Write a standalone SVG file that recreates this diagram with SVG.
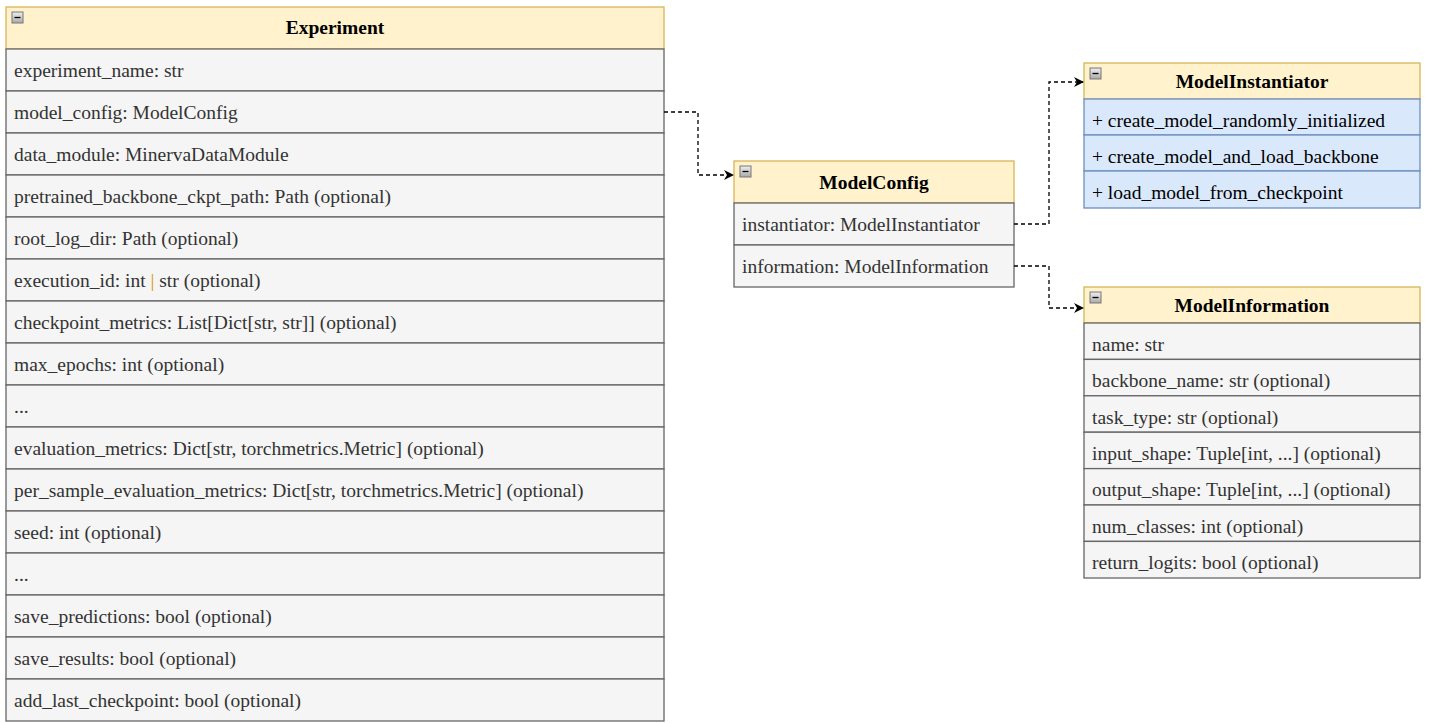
<svg xmlns="http://www.w3.org/2000/svg" width="1429" height="723" viewBox="0 0 1429 723">
<defs>
<marker id="arr" markerWidth="10" markerHeight="10" refX="9" refY="5" orient="auto" markerUnits="userSpaceOnUse"><path d="M0,0 L10,5 L0,10 L3,5 Z" fill="#000"/></marker>
<linearGradient id="btn" x1="0" y1="0" x2="0" y2="1"><stop offset="0" stop-color="#eee"/><stop offset="1" stop-color="#aaa"/></linearGradient>
</defs>
<style>
.hd{fill:#fff2cc;stroke:#d6b656;stroke-width:1.3}
.row{fill:#f5f5f5;stroke:#666;stroke-width:1.3}
.brow{fill:#dae8fc;stroke:#6c8ebf;stroke-width:1.3}
.t{font-family:"Liberation Serif",serif;font-size:19.5px;fill:#333}
.bt{font-family:"Liberation Serif",serif;font-size:19.5px;fill:#000}
.h{font-family:"Liberation Serif",serif;font-size:19.5px;font-weight:bold;fill:#000;text-anchor:middle}
.b{fill:url(#btn);stroke:#777;stroke-width:1}
.c{fill:none;stroke:#000;stroke-width:1.3;stroke-dasharray:4 3}
</style>
<rect width="1429" height="723" fill="#fff"/>
<g id="Experiment">
<rect class="hd" x="6" y="7" width="658" height="42"/>
<rect class="b" x="12" y="12" width="11" height="11"/><path d="M14.5 17.5h6" stroke="#000" stroke-width="1.3"/>
<text class="h" x="335" y="34">Experiment</text>
<rect class="row" x="6" y="49" width="658" height="42"/><text class="t" x="14" y="77">experiment_name: str</text>
<rect class="row" x="6" y="91" width="658" height="42"/><text class="t" x="14" y="119">model_config: ModelConfig</text>
<rect class="row" x="6" y="133" width="658" height="42"/><text class="t" x="14" y="161">data_module: MinervaDataModule</text>
<rect class="row" x="6" y="175" width="658" height="42"/><text class="t" x="14" y="203">pretrained_backbone_ckpt_path: Path (optional)</text>
<rect class="row" x="6" y="217" width="658" height="42"/><text class="t" x="14" y="245">root_log_dir: Path (optional)</text>
<rect class="row" x="6" y="259" width="658" height="42"/><text class="t" x="14" y="287">execution_id: int <tspan fill="#d79b00">|</tspan> str (optional)</text>
<rect class="row" x="6" y="301" width="658" height="42"/><text class="t" x="14" y="329">checkpoint_metrics: List[Dict[str, str]] (optional)</text>
<rect class="row" x="6" y="343" width="658" height="42"/><text class="t" x="14" y="371">max_epochs: int (optional)</text>
<rect class="row" x="6" y="385" width="658" height="42"/><text class="t" x="14" y="413">...</text>
<rect class="row" x="6" y="427" width="658" height="42"/><text class="t" x="14" y="455">evaluation_metrics: Dict[str, torchmetrics.Metric] (optional)</text>
<rect class="row" x="6" y="469" width="658" height="42"/><text class="t" x="14" y="497">per_sample_evaluation_metrics: Dict[str, torchmetrics.Metric] (optional)</text>
<rect class="row" x="6" y="511" width="658" height="42"/><text class="t" x="14" y="539">seed: int (optional)</text>
<rect class="row" x="6" y="553" width="658" height="42"/><text class="t" x="14" y="581">...</text>
<rect class="row" x="6" y="595" width="658" height="42"/><text class="t" x="14" y="623">save_predictions: bool (optional)</text>
<rect class="row" x="6" y="637" width="658" height="42"/><text class="t" x="14" y="665">save_results: bool (optional)</text>
<rect class="row" x="6" y="679" width="658" height="42"/><text class="t" x="14" y="707">add_last_checkpoint: bool (optional)</text>
</g>
<g id="ModelConfig">
<rect class="hd" x="734" y="161" width="280" height="42"/>
<rect class="b" x="740" y="166" width="11" height="11"/><path d="M742.5 171.5h6" stroke="#000" stroke-width="1.3"/>
<text class="h" x="874" y="189">ModelConfig</text>
<rect class="row" x="734" y="203" width="280" height="42"/><text class="t" x="742" y="231">instantiator: ModelInstantiator</text>
<rect class="row" x="734" y="245" width="280" height="42"/><text class="t" x="742" y="273">information: ModelInformation</text>
</g>
<g id="ModelInstantiator">
<rect class="hd" x="1084" y="63" width="336" height="36"/>
<rect class="b" x="1090" y="68" width="11" height="11"/><path d="M1092.5 73.5h6" stroke="#000" stroke-width="1.3"/>
<text class="h" x="1252" y="88">ModelInstantiator</text>
<rect class="brow" x="1084" y="99" width="336" height="36"/><text class="bt" x="1092" y="127">+ create_model_randomly_initialized</text>
<rect class="brow" x="1084" y="135" width="336" height="36"/><text class="bt" x="1092" y="163">+ create_model_and_load_backbone</text>
<rect class="brow" x="1084" y="171" width="336" height="37"/><text class="bt" x="1092" y="199">+ load_model_from_checkpoint</text>
</g>
<g id="ModelInformation">
<rect class="hd" x="1084" y="287" width="336" height="36"/>
<rect class="b" x="1090" y="292" width="11" height="11"/><path d="M1092.5 297.5h6" stroke="#000" stroke-width="1.3"/>
<text class="h" x="1252" y="312">ModelInformation</text>
<rect class="row" x="1084" y="323" width="336" height="36.4"/><text class="t" x="1092" y="351">name: str</text>
<rect class="row" x="1084" y="359.4" width="336" height="36.4"/><text class="t" x="1092" y="387">backbone_name: str (optional)</text>
<rect class="row" x="1084" y="395.8" width="336" height="36.4"/><text class="t" x="1092" y="424">task_type: str (optional)</text>
<rect class="row" x="1084" y="432.2" width="336" height="36.4"/><text class="t" x="1092" y="460">input_shape: Tuple[int, ...] (optional)</text>
<rect class="row" x="1084" y="468.6" width="336" height="36.4"/><text class="t" x="1092" y="496">output_shape: Tuple[int, ...] (optional)</text>
<rect class="row" x="1084" y="505" width="336" height="36.4"/><text class="t" x="1092" y="533">num_classes: int (optional)</text>
<rect class="row" x="1084" y="541.4" width="336" height="36.6"/><text class="t" x="1092" y="569">return_logits: bool (optional)</text>
</g>
<g id="connectors">
<path class="c" d="M664 112 H698 V175 H733" marker-end="url(#arr)"/>
<path class="c" d="M1014 224 H1049 V82 H1083" marker-end="url(#arr)"/>
<path class="c" d="M1014 266 H1049 V308 H1083" marker-end="url(#arr)"/>
</g>
</svg>
